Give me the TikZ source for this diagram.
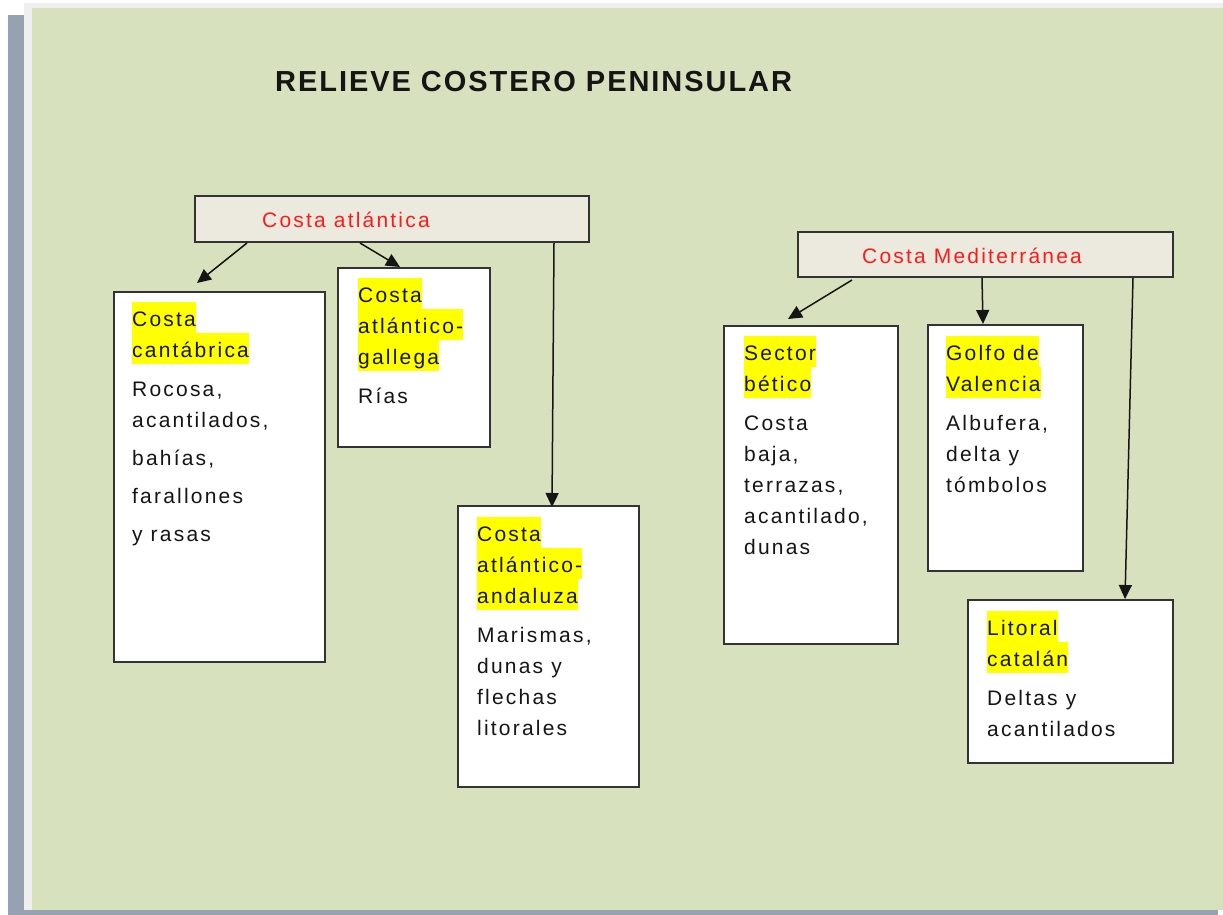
\documentclass[tikz,border=0pt]{standalone}
\usepackage{fontspec}
\setmainfont{Liberation Sans}[LetterSpace=10.5]
\usetikzlibrary{arrows.meta}
\definecolor{bggreen}{HTML}{D8E1BE}
\definecolor{bargray}{HTML}{96A2B2}
\definecolor{framegray}{HTML}{EFEFEF}
\definecolor{hdrfill}{HTML}{ECEADF}
\definecolor{edge}{HTML}{333333}
\definecolor{ink}{HTML}{151515}
\definecolor{hiyellow}{HTML}{FFFF00}
\definecolor{redtxt}{HTML}{FF1A1A}
\newcommand\hlt[1]{{\setlength{\fboxsep}{0pt}\colorbox{hiyellow}{\rule[-7pt]{0pt}{31pt}#1}}}
\tikzset{
  hdrbox/.style={draw=edge, fill=hdrfill, line width=2pt, inner sep=0pt, anchor=north west},
  contbox/.style={draw=edge, fill=white, line width=2pt, inner sep=0pt, anchor=north west},
  bodytxt/.style={anchor=north west, inner sep=0pt, align=left, text=ink, font=\fontsize{21}{31}\selectfont},
  redlabel/.style={anchor=base west, inner sep=0pt, text=redtxt, font=\fontsize{21}{31}\selectfont},
  link/.style={draw=ink, line width=1.5pt, -{Triangle[length=14pt,width=13pt]}}
}
\begin{document}
\begin{tikzpicture}[x=1pt,y=-1pt]
\useasboundingbox (0,0) rectangle (1223,915);
% background
\fill[white] (0,0) rectangle (1223,915);
\fill[bargray] (8,15) rectangle (24,915);
\fill[bargray] (8,910) rectangle (1218,915);
\fill[framegray] (24,3) rectangle (1223,910);
\fill[bggreen] (32,8) rectangle (1223,910);
% title
\node[anchor=base west, inner sep=0pt, text=ink, font=\fontsize{29}{34}\selectfont\bfseries\addfontfeature{LetterSpace=6.7}] (title) at (275,92) {RELIEVE COSTERO PENINSULAR};
% headers
\node[hdrbox, minimum width=394pt, minimum height=46pt] (atl) at (194,195) {};
\node[redlabel] (atltxt) at (262,227.5) {Costa atlántica};
\node[hdrbox, minimum width=375pt, minimum height=45pt] (med) at (797,231) {};
\node[redlabel] (medtxt) at (862,263.5) {Costa Mediterránea};
% content boxes
\node[contbox, minimum width=211pt, minimum height=370pt] (cant) at (113,291) {};
\node[contbox, minimum width=152pt, minimum height=179pt] (gal) at (337,267) {};
\node[contbox, minimum width=181pt, minimum height=281pt] (and) at (457,505) {};
\node[contbox, minimum width=174pt, minimum height=318pt] (bet) at (723,325) {};
\node[contbox, minimum width=155pt, minimum height=246pt] (val) at (927,324) {};
\node[contbox, minimum width=205pt, minimum height=163pt] (cat) at (967,599) {};
% texts
\node[bodytxt] (canttxt) at (132,302) {\hlt{Costa}\\\hlt{cantábrica}\\[8pt]Rocosa,\\acantilados,\\[7pt]bahías,\\[7pt]farallones\\[7pt]y rasas};
\node[bodytxt] (galtxt) at (358,278) {\hlt{Costa}\\\hlt{atlántico-}\\\hlt{gallega}\\[8pt]Rías};
\node[bodytxt] (andtxt) at (477,517) {\hlt{Costa}\\\hlt{atlántico-}\\\hlt{andaluza}\\[8pt]Marismas,\\dunas y\\flechas\\litorales};
\node[bodytxt] (bettxt) at (744,336) {\hlt{Sector}\\\hlt{bético}\\[8pt]Costa\\baja,\\terrazas,\\acantilado,\\dunas};
\node[bodytxt] (valtxt) at (946,336) {\hlt{Golfo de}\\\hlt{Valencia}\\[8pt]Albufera,\\delta y\\tómbolos};
\node[bodytxt] (cattxt) at (987,611) {\hlt{Litoral}\\\hlt{catalán}\\[8pt]Deltas y\\acantilados};
% connectors
\draw[link] ([xshift=53pt]atl.south west) -- ([xshift=84pt,yshift=8pt]cant.north west);
\draw[link] ([xshift=166pt]atl.south west) -- ([xshift=63pt]gal.north west);
\draw[link] ([xshift=360pt]atl.south west) -- ([xshift=95pt,yshift=-2pt]and.north west);
\draw[link] ([xshift=55pt,yshift=-2pt]med.south west) -- ([xshift=65pt,yshift=6pt]bet.north west);
\draw[link] ([xshift=185pt]med.south west) -- ([xshift=56pt]val.north west);
\draw[link] ([xshift=336pt]med.south west) -- ([xshift=158pt]cat.north west);
\end{tikzpicture}
\end{document}
